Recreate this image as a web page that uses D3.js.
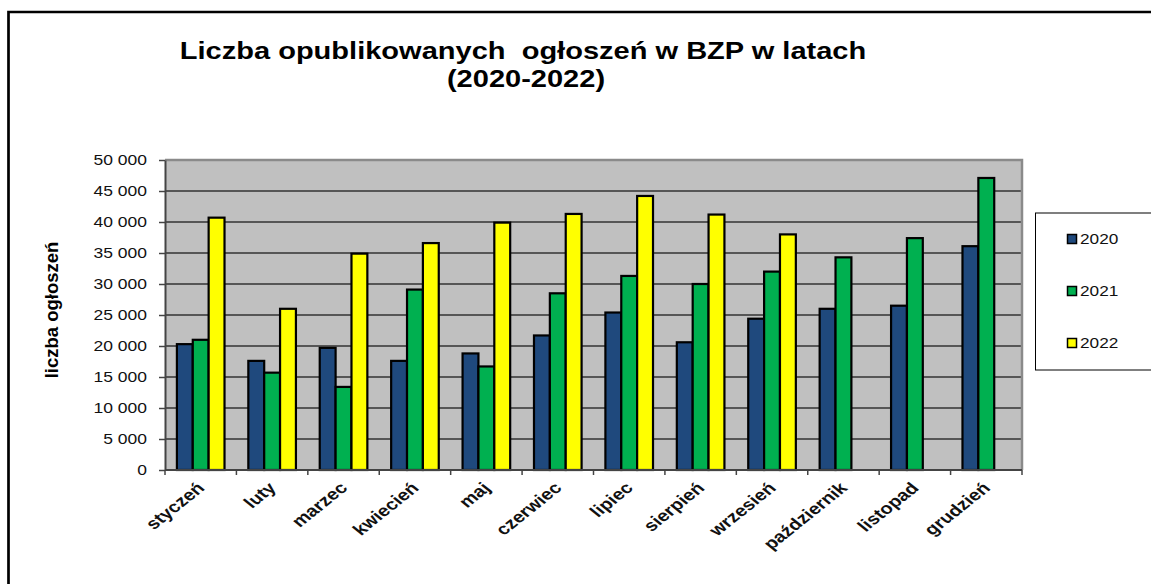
<!DOCTYPE html>
<html>
<head>
<meta charset="utf-8">
<script src="https://cdn.jsdelivr.net/npm/d3@7"></script>
<style>
  body { margin: 0; background: #fff; }
  svg { display: block; font-family: "Liberation Sans", Arial, sans-serif; }
</style>
</head>
<body>
<div id="chart"></div>
<script>
const months = ["styczeń", "luty", "marzec", "kwiecień", "maj", "czerwiec", "lipiec",
  "sierpień", "wrzesień", "październik", "listopad", "grudzień"];
const years = ["2020", "2021", "2022"];
const v2020 = [20300, 17600, 19700, 17600, 18800, 21700, 25400, 20600, 24400, 26000, 26500, 36100];
const v2021 = [21000, 15700, 13400, 29100, 16700, 28500, 31300, 30000, 32000, 34300, 37400, 47100];
const v2022 = [40700, 26000, 34900, 36600, 39900, 41300, 44200, 41200, 38000, null, null, null];
const yTicks = [0, 5000, 10000, 15000, 20000, 25000, 30000, 35000, 40000, 45000, 50000];
const colours = ["#1F497D", "#00B050", "#FFFF00"];

const width = 1151, height = 584;
const plot = { left: 165, right: 1022, top: 160, bottom: 470 };

const svg = d3.select("#chart").append("svg")
  .attr("width", width)
  .attr("height", height);

// outer frame
svg.append("path")
  .attr("d", `M8.5,${height} V12 H${width}`)
  .attr("fill", "none")
  .attr("stroke", "#000")
  .attr("stroke-width", 2.7);

// title
svg.append("text")
  .attr("transform", `translate(523,59) scale(1.21,1)`)
  .attr("text-anchor", "middle")
  .style("font-size", "24px")
  .style("font-weight", "bold")
  .style("white-space", "pre")
  .text("Liczba opublikowanych  ogłoszeń w BZP w latach");
svg.append("text")
  .attr("transform", `translate(526,87) scale(1.21,1)`)
  .attr("text-anchor", "middle")
  .style("font-size", "24px")
  .style("font-weight", "bold")
  .text("(2020-2022)");

const x0 = d3.scaleBand()
  .domain(months)
  .range([plot.left, plot.right]);

const x1 = d3.scaleBand()
  .domain(years)
  .range([0, x0.bandwidth()])
  .paddingInner(0)
  .paddingOuter(0.75);

const y = d3.scaleLinear()
  .domain([0, 50000])
  .range([plot.bottom, plot.top]);

// plot area
svg.append("rect")
  .attr("x", plot.left)
  .attr("y", plot.top)
  .attr("width", plot.right - plot.left)
  .attr("height", plot.bottom - plot.top)
  .attr("fill", "#C0C0C0");

svg.append("g")
  .selectAll("line")
  .data(yTicks.slice(1, -1))
  .join("line")
  .attr("x1", plot.left)
  .attr("x2", plot.right)
  .attr("y1", d => y(d))
  .attr("y2", d => y(d))
  .attr("stroke", "#333")
  .attr("stroke-width", 1.3);

// plot border top / right
svg.append("path")
  .attr("d", `M${plot.left},${plot.top} H${plot.right} V${plot.bottom}`)
  .attr("fill", "none")
  .attr("stroke", "#8a8a8a")
  .attr("stroke-width", 2.5);

// bars
const data = months.map((m, i) => ({ month: m, values: [v2020[i], v2021[i], v2022[i]] }));

svg.append("g")
  .selectAll("g")
  .data(data)
  .join("g")
  .attr("transform", d => `translate(${x0(d.month)},0)`)
  .selectAll("rect")
  .data(d => d.values.map((v, j) => ({ year: years[j], value: v, c: colours[j] })).filter(e => e.value != null))
  .join("rect")
  .attr("x", d => x1(d.year))
  .attr("y", d => y(d.value))
  .attr("width", x1.bandwidth())
  .attr("height", d => y(0) - y(d.value))
  .attr("fill", d => d.c)
  .attr("stroke", "#000")
  .attr("stroke-width", 2.2);

// y axis
const fmt = d3.formatLocale({ decimal: ",", thousands: " ", grouping: [3], currency: ["", ""] }).format(",");
const yAxis = svg.append("g")
  .attr("transform", `translate(${plot.left},0)`)
  .call(d3.axisLeft(y).tickValues(yTicks).tickSize(6).tickSizeOuter(0).tickFormat(fmt));
yAxis.select(".domain").attr("stroke", "#444").attr("stroke-width", 2);
yAxis.selectAll(".tick line").attr("stroke", "#444").attr("stroke-width", 1.5);
yAxis.selectAll(".tick text")
  .attr("x", 0)
  .attr("transform", `translate(-18,0) scale(1.25,1)`)
  .attr("fill", "#111")
  .style("font-size", "14px");

// x axis
svg.append("line")
  .attr("x1", plot.left)
  .attr("x2", plot.right)
  .attr("y1", plot.bottom)
  .attr("y2", plot.bottom)
  .attr("stroke", "#444")
  .attr("stroke-width", 2);

svg.append("g")
  .selectAll("line")
  .data(months.map(m => x0(m)).concat([plot.right]))
  .join("line")
  .attr("x1", d => d)
  .attr("x2", d => d)
  .attr("y1", plot.bottom)
  .attr("y2", plot.bottom + 5)
  .attr("stroke", "#444")
  .attr("stroke-width", 1.5);

svg.append("g")
  .selectAll("text")
  .data(months)
  .join("text")
  .attr("transform", d => `translate(${x0(d) + x0.bandwidth() / 2 + 5},489) scale(1.25,1) rotate(-45)`)
  .attr("text-anchor", "end")
  .attr("fill", "#111")
  .style("font-size", "16px")
  .style("font-weight", "bold")
  .text(d => d);

// y title
svg.append("text")
  .attr("transform", "translate(58,310) rotate(-90)")
  .attr("text-anchor", "middle")
  .style("font-size", "18.5px")
  .style("font-weight", "bold")
  .text("liczba ogłoszeń");

// legend
svg.append("rect")
  .attr("x", 1035.5)
  .attr("y", 213)
  .attr("width", 130)
  .attr("height", 157)
  .attr("fill", "#fff")
  .attr("stroke", "#000")
  .attr("stroke-width", 1);

const legendY = d3.scalePoint().domain(years).range([239, 343]);
const leg = svg.append("g")
  .selectAll("g")
  .data(years)
  .join("g")
  .attr("transform", d => `translate(1067,${legendY(d)})`);
leg.append("rect")
  .attr("x", 0.5)
  .attr("y", -4.5)
  .attr("width", 9)
  .attr("height", 9)
  .attr("fill", (d, i) => colours[i])
  .attr("stroke", "#000")
  .attr("stroke-width", 1.5);
leg.append("text")
  .attr("transform", `translate(13,0) scale(1.23,1)`)
  .attr("dy", "0.36em")
  .style("font-size", "14px")
  .attr("fill", "#111")
  .text(d => d);
</script>
</body>
</html>
